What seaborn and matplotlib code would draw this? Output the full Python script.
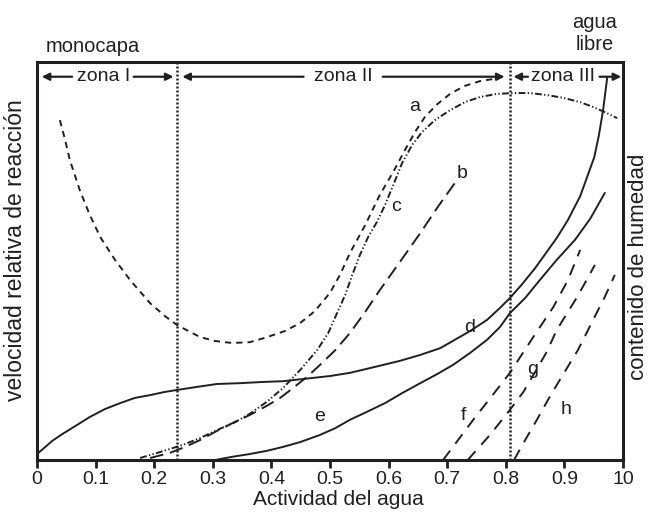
import matplotlib
matplotlib.use("Agg")
import matplotlib.pyplot as plt
import seaborn as sns
import pandas as pd

sns.set_theme(style="white")
plt.rcParams['font.family'] = ['Liberation Sans', 'DejaVu Sans']

INK = "#231f20"

# ---- data (axes 0..1) ----
a_x = [0.039, 0.048, 0.056, 0.073, 0.090, 0.108, 0.133, 0.159, 0.193, 0.218, 0.239, 0.278, 0.304, 0.333, 0.363, 0.389, 0.423, 0.449, 0.474, 0.500, 0.517, 0.534, 0.560, 0.585, 0.608, 0.628, 0.645, 0.662, 0.683, 0.705, 0.730, 0.756, 0.790]
a_y = [0.854, 0.804, 0.754, 0.678, 0.616, 0.560, 0.503, 0.452, 0.394, 0.362, 0.339, 0.309, 0.299, 0.294, 0.296, 0.307, 0.324, 0.344, 0.374, 0.420, 0.465, 0.520, 0.590, 0.666, 0.724, 0.779, 0.824, 0.862, 0.894, 0.920, 0.940, 0.952, 0.960]

b_x = [0.193, 0.227, 0.253, 0.278, 0.307, 0.334, 0.363, 0.392, 0.415, 0.437, 0.461, 0.483, 0.509, 0.534, 0.560, 0.585, 0.619, 0.654, 0.684, 0.717]
b_y = [0.005, 0.018, 0.033, 0.050, 0.073, 0.093, 0.113, 0.136, 0.156, 0.181, 0.209, 0.239, 0.276, 0.319, 0.372, 0.427, 0.497, 0.570, 0.636, 0.704]

c_x = [0.176, 0.210, 0.249, 0.278, 0.307, 0.338, 0.363, 0.392, 0.420, 0.449, 0.478, 0.497, 0.512, 0.526, 0.538, 0.551, 0.565, 0.580, 0.594, 0.608, 0.623, 0.640, 0.657, 0.679, 0.705, 0.730, 0.756, 0.785, 0.816, 0.841, 0.870, 0.898, 0.927, 0.949, 0.969, 0.990]
c_y = [0.005, 0.020, 0.038, 0.055, 0.075, 0.095, 0.116, 0.146, 0.181, 0.226, 0.276, 0.319, 0.369, 0.415, 0.465, 0.515, 0.560, 0.598, 0.641, 0.691, 0.746, 0.791, 0.824, 0.854, 0.879, 0.899, 0.912, 0.920, 0.922, 0.922, 0.917, 0.910, 0.899, 0.887, 0.874, 0.859]

d_x = [0.000, 0.012, 0.026, 0.043, 0.065, 0.090, 0.116, 0.142, 0.167, 0.193, 0.218, 0.239, 0.270, 0.307, 0.346, 0.384, 0.420, 0.457, 0.500, 0.534, 0.577, 0.619, 0.654, 0.688, 0.713, 0.739, 0.768, 0.790, 0.807, 0.828, 0.850, 0.870, 0.887, 0.906, 0.927, 0.940, 0.951, 0.959, 0.966, 0.973]
d_y = [0.015, 0.030, 0.048, 0.065, 0.085, 0.108, 0.128, 0.143, 0.156, 0.163, 0.171, 0.176, 0.183, 0.191, 0.193, 0.196, 0.198, 0.204, 0.211, 0.219, 0.234, 0.249, 0.264, 0.281, 0.302, 0.324, 0.352, 0.382, 0.407, 0.442, 0.482, 0.523, 0.558, 0.603, 0.663, 0.716, 0.761, 0.817, 0.879, 0.960]

e_x = [0.304, 0.333, 0.363, 0.392, 0.420, 0.449, 0.483, 0.509, 0.534, 0.563, 0.594, 0.623, 0.654, 0.683, 0.710, 0.739, 0.768, 0.790, 0.807, 0.833, 0.858, 0.887, 0.918, 0.944, 0.969]
e_y = [0.000, 0.008, 0.015, 0.023, 0.033, 0.045, 0.063, 0.080, 0.101, 0.121, 0.143, 0.168, 0.193, 0.216, 0.239, 0.269, 0.302, 0.334, 0.369, 0.407, 0.452, 0.503, 0.553, 0.606, 0.671]

f_x = [0.693, 0.720, 0.747, 0.777, 0.807, 0.846, 0.881, 0.906, 0.927]
f_y = [0.000, 0.053, 0.106, 0.162, 0.219, 0.307, 0.384, 0.452, 0.528]

g_x = [0.735, 0.773, 0.807, 0.830, 0.850, 0.870, 0.887, 0.922, 0.952]
g_y = [0.000, 0.063, 0.126, 0.171, 0.221, 0.272, 0.327, 0.410, 0.490]

h_x = [0.814, 0.833, 0.853, 0.872, 0.892, 0.923, 0.949, 0.969, 0.986]
h_y = [0.000, 0.050, 0.101, 0.151, 0.201, 0.276, 0.352, 0.410, 0.465]

curve_labels = ["a", "b", "c", "d", "e", "f", "g", "h"]
label_x = [0.645, 0.725, 0.612, 0.739, 0.483, 0.727, 0.845, 0.902]
label_y = [0.888, 0.720, 0.638, 0.333, 0.110, 0.113, 0.227, 0.128]

zone_bounds = [0.239, 0.807]
tick_vals = [0, 0.1, 0.2, 0.3, 0.4, 0.5, 0.6, 0.7, 0.8, 0.9, 1.0]
tick_text = ["0", "0.1", "0.2", "0.3", "0.4", "0.5", "0.6", "0.7", "0.8", "0.9", "10"]

# ---- figure ----
fig = plt.figure(figsize=(6.52, 5.15), dpi=100)
ax = fig.add_axes([37/652, 1 - 460/515, 586/652, 398/515])

series = [
    (a_x, a_y, (3.2, 2.6)),
    (b_x, b_y, (7, 3.5)),
    (c_x, c_y, (3.5, 1.2, 0.7, 1.2, 0.7, 1.2)),
    (d_x, d_y, None),
    (e_x, e_y, None),
    (f_x, f_y, (6, 4.5)),
    (g_x, g_y, (6, 4.5)),
    (h_x, h_y, (6, 4.5)),
]
for xs, ys, dash in series:
    df = pd.DataFrame({"x": xs, "y": ys})
    sns.lineplot(data=df, x="x", y="y", ax=ax, color=INK, linewidth=1.4,
                 sort=False, estimator=None, errorbar=None)
    ln = ax.lines[-1]
    ln.set_solid_joinstyle("round")
    ln.set_dash_joinstyle("round")
    if dash is not None:
        ln.set_dashes(dash)

for xb in zone_bounds:
    ax.axvline(xb, color=INK, linewidth=1.8, linestyle=(0, (0.8, 0.8)))

for lab, lx, ly in zip(curve_labels, label_x, label_y):
    ax.text(lx, ly, lab, fontsize=14, color=INK, ha="center", va="center")

# zone headers
zy = 0.963
arrow_kw = dict(arrowstyle="-|>", color=INK, lw=1.6, mutation_scale=11,
                shrinkA=0, shrinkB=0)
zones = [
    ("zona I", 0.113, (0.060, 0.008), (0.165, 0.233)),
    ("zona II", 0.522, (0.455, 0.248), (0.590, 0.798)),
    ("zona III", 0.898, (0.838, 0.813), (0.960, 0.997)),
]
for name, cx, (l0, l1), (r0, r1) in zones:
    ax.text(cx, zy, name, fontsize=14, color=INK, ha="center", va="center")
    ax.annotate("", xy=(l1, zy), xytext=(l0, zy), arrowprops=arrow_kw)
    ax.annotate("", xy=(r1, zy), xytext=(r0, zy), arrowprops=arrow_kw)

ax.text(0.095, 1.040, "monocapa", fontsize=14.5, color=INK, ha="center", va="center",
        transform=ax.transAxes)
ax.text(0.951, 1.0716, "agua\nlibre", fontsize=14.5, color=INK, ha="center", va="center",
        transform=ax.transAxes, linespacing=1.15)

ax.set_xlim(0, 1)
ax.set_ylim(0, 1)
ax.set_xticks(tick_vals)
ax.set_xticklabels(tick_text)
ax.set_yticks([])
ax.tick_params(axis="x", direction="out", length=6, width=2, color=INK,
               labelsize=14, labelcolor=INK, pad=2, bottom=True)
ax.set_xlabel("Actividad del agua", fontsize=15, color=INK)
ax.xaxis.set_label_coords(0.515, -0.075)
ax.set_ylabel("")
ax.text(-0.0375, 0.528, "velocidad relativa de reacción", fontsize=16.5, color=INK,
        rotation=90, ha="center", va="center", transform=ax.transAxes)
ax.text(1.026, 0.485, "contenido de humedad", fontsize=16, color=INK, rotation=90,
        ha="center", va="center", transform=ax.transAxes)
for sp in ax.spines.values():
    sp.set_color(INK)
    sp.set_linewidth(2.2)
    sp.set_visible(True)

fig.savefig("out.png", dpi=100, facecolor="white")
